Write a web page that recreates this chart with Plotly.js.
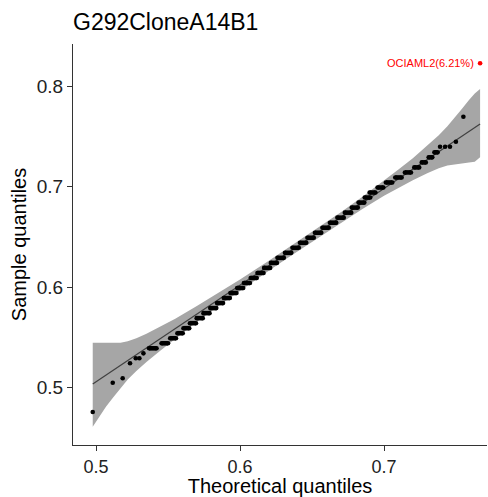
<!DOCTYPE html>
<html><head><meta charset="utf-8">
<script src="https://cdn.plot.ly/plotly-3.0.1.min.js"></script>
<style>html,body{margin:0;padding:0;background:#fff}#chart{width:488px;height:497px}</style>
</head><body><div id="chart"></div>
<script>
// ---- data ----
const chartTitle = 'G292CloneA14B1';
const xTicks = [0.5, 0.6, 0.7];
const yTicks = [0.5, 0.6, 0.7, 0.8];

// isolated points in the tails (theoretical, sample)
const tailX = [0.4977, 0.5116, 0.5185, 0.5236, 0.5276, 0.5301, 0.5329, 0.7389, 0.7424, 0.7458, 0.7499, 0.7551];
const tailY = [0.4756, 0.5048, 0.5092, 0.5241, 0.5291, 0.5291, 0.5340, 0.7396, 0.7396, 0.7396, 0.7446, 0.7694];

// runs of tied sample values (sample level, first and last theoretical quantile)
const runY  = [0.539, 0.544, 0.549, 0.554, 0.559, 0.564, 0.569, 0.574, 0.579, 0.584, 0.589, 0.594, 0.599, 0.604, 0.609, 0.614, 0.619, 0.624, 0.629, 0.634, 0.639, 0.644, 0.649, 0.654, 0.659, 0.664, 0.669, 0.674, 0.679, 0.684, 0.689, 0.694, 0.699, 0.704, 0.709, 0.714, 0.719, 0.724, 0.729, 0.734];
const runX0 = [0.5368, 0.5455, 0.5515, 0.5565, 0.5607, 0.5652, 0.5699, 0.5746, 0.5793, 0.5840, 0.5887, 0.5933, 0.5980, 0.6027, 0.6074, 0.6121, 0.6167, 0.6214, 0.6260, 0.6312, 0.6364, 0.6416, 0.6468, 0.6520, 0.6572, 0.6624, 0.6676, 0.6728, 0.6776, 0.6823, 0.6866, 0.6900, 0.6955, 0.7013, 0.7078, 0.7145, 0.7210, 0.7262, 0.7310, 0.7350];
const runX1 = [0.5420, 0.5500, 0.5555, 0.5602, 0.5647, 0.5694, 0.5741, 0.5788, 0.5835, 0.5882, 0.5929, 0.5975, 0.6022, 0.6069, 0.6116, 0.6163, 0.6209, 0.6256, 0.6304, 0.6356, 0.6408, 0.6460, 0.6512, 0.6564, 0.6616, 0.6668, 0.6720, 0.6772, 0.6818, 0.6863, 0.6904, 0.6940, 0.6995, 0.7057, 0.7122, 0.7187, 0.7244, 0.7290, 0.7335, 0.7372];

// labelled outlier
const outX = [0.7667];
const outY = [0.8226];
const outLabel = ['OCIAML2(6.21%)'];

// reference line
const lineX = [0.4977, 0.7667];
const lineY = [0.5035, 0.7622];

// confidence band
const bandX     = [0.4977, 0.502, 0.507, 0.512, 0.517, 0.522, 0.528, 0.535, 0.545, 0.555, 0.570, 0.585, 0.600, 0.620, 0.633, 0.650, 0.670, 0.685, 0.700, 0.710, 0.720, 0.730, 0.738, 0.744, 0.749, 0.754, 0.759, 0.763, 0.7667];
const bandUpper = [0.5446, 0.5445, 0.5440, 0.5442, 0.5445, 0.5460, 0.5490, 0.5535, 0.5610, 0.5685, 0.5810, 0.5940, 0.6075, 0.6260, 0.6385, 0.6550, 0.6745, 0.6897, 0.7055, 0.7168, 0.7280, 0.7405, 0.7510, 0.7600, 0.7680, 0.7770, 0.7860, 0.7925, 0.7970];
const bandLower = [0.4610, 0.4707, 0.4810, 0.4903, 0.4997, 0.5080, 0.5164, 0.5254, 0.5370, 0.5486, 0.5651, 0.5810, 0.5964, 0.6162, 0.6289, 0.6450, 0.6640, 0.6777, 0.6907, 0.6987, 0.7063, 0.7133, 0.7182, 0.7208, 0.7222, 0.7230, 0.7238, 0.7247, 0.7290];

// ---- build traces ----
const runPathX = [], runPathY = [];
for (let i = 0; i < runY.length; i++) {
  runPathX.push(runX0[i], runX1[i], null);
  runPathY.push(runY[i], runY[i], null);
}
const PT = 4.6;
const traces = [
  {x: bandX, y: bandLower, type: 'scatter', mode: 'lines', line: {width: 0, color: 'rgba(0,0,0,0)'}, hoverinfo: 'skip'},
  {x: bandX, y: bandUpper, type: 'scatter', mode: 'lines', fill: 'tonexty', fillcolor: '#a6a6a6', line: {width: 0, color: 'rgba(0,0,0,0)'}, hoverinfo: 'skip'},
  {x: lineX, y: lineY, type: 'scatter', mode: 'lines', line: {color: '#404040', width: 1.2}},
  {x: runPathX, y: runPathY, type: 'scatter', mode: 'lines+markers', line: {color: '#000', width: PT}, marker: {color: '#000', size: PT}, connectgaps: false},
  {x: tailX, y: tailY, type: 'scatter', mode: 'markers', marker: {color: '#000', size: PT}},
  {x: outX, y: outY, type: 'scatter', mode: 'markers', marker: {color: '#ff0000', size: PT}}
];

const font = 'Liberation Sans, Arial, Helvetica, sans-serif';
const layout = {
  width: 488, height: 497,
  margin: {l: 73, r: 1, t: 44, b: 52},
  paper_bgcolor: '#fff', plot_bgcolor: '#fff',
  showlegend: false,
  font: {family: font, color: '#000'},
  title: {text: chartTitle, font: {family: font, size: 23, color: '#000'},
          x: 73 / 488, xref: 'container', xanchor: 'left',
          y: 1 - 22 / 497, yref: 'container', yanchor: 'middle'},
  xaxis: {range: [0.4840, 0.7715], tickvals: xTicks, ticktext: xTicks.map(v => v.toFixed(1)),
          ticks: 'outside', ticklen: 5, tickwidth: 1, tickcolor: '#333',
          showline: true, linecolor: '#333', linewidth: 1.1, showgrid: false, zeroline: false,
          tickfont: {size: 18, color: '#222'},
          title: {text: 'Theoretical quantiles', font: {size: 20, color: '#000'}, standoff: 5}},
  yaxis: {range: [0.44279, 0.84179], tickvals: yTicks, ticktext: yTicks.map(v => v.toFixed(1)),
          ticks: 'outside', ticklen: 5, tickwidth: 1, tickcolor: '#333',
          showline: true, linecolor: '#333', linewidth: 1.1, showgrid: false, zeroline: false,
          tickfont: {size: 19, color: '#222'},
          title: {text: 'Sample quantiles', font: {size: 20, color: '#000'}, standoff: 4}},
  annotations: [{x: outX[0], y: outY[0], text: outLabel[0], showarrow: false,
                 xanchor: 'right', yanchor: 'middle', xshift: -4,
                 font: {family: font, size: 11, color: '#ff0000'}}]
};
Plotly.newPlot('chart', traces, layout, {staticPlot: true, displayModeBar: false});
</script></body></html>
